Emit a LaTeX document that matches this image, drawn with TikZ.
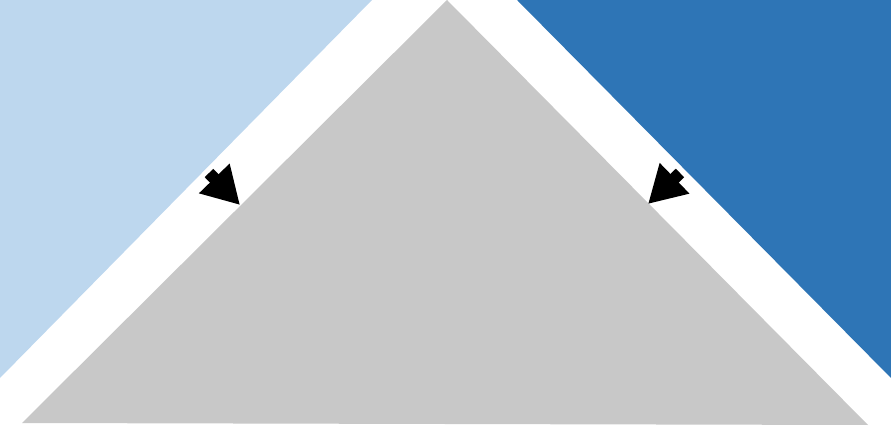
\documentclass[tikz,border=0pt]{standalone}
\usetikzlibrary{arrows.meta}
\definecolor{paleblue}{HTML}{BDD7EE}
\definecolor{deepblue}{HTML}{2E75B6}
\definecolor{stone}{HTML}{C8C8C8}
\tikzset{push/.style={line width=12pt,-{Triangle[length=37pt,width=40pt]}}}
\begin{document}
\begin{tikzpicture}[x=1pt,y=-1pt]
% 891 x 427 px, 1px = 1pt, y going down
\useasboundingbox (0,0) rectangle (891,427);
\fill [paleblue] (0,0) -- (372,0) -- (0,378) -- cycle;
\fill [deepblue] (517,0) -- (891,0) -- (891,378) -- cycle;
\fill [stone] (447,0) -- (868,425) -- (22,423) -- cycle;
% arrows into the middle
\coordinate (ltail) at (209,173);
\coordinate (ltip) at (240,205);
\coordinate (rtail) at (680,173);
\coordinate (rtip) at (648,204);
\draw [push] (ltail) -- (ltip);
\draw [push] (rtail) -- (rtip);
\end{tikzpicture}
\end{document}
